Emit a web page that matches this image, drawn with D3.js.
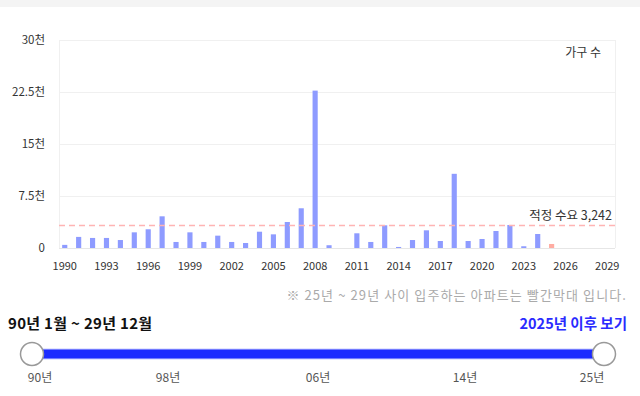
<!DOCTYPE html>
<html>
<head>
<meta charset="utf-8">
<script src="https://cdn.jsdelivr.net/npm/d3@7"></script>
<style>
  body { margin: 0; background: #fff; font-family: "Noto Sans CJK KR", "Noto Sans", sans-serif; }
  svg { display: block; }
</style>
</head>
<body>
<svg id="chart" width="640" height="396"></svg>
<script>
// data
var years = d3.range( 1990, 2030 );
var households = [
	450, 1600, 1450, 1450, 1150, 2260, 2700, 4570, 870, 2260,
	870, 1780, 870, 720, 2350, 1970, 3750, 5730, 22700, 400,
	0, 2120, 870, 3270, 150, 1150, 2550, 1010, 10700, 1010,
	1300, 2450, 3320, 250, 2020, 580, 0, 0, 0, 0
];
var futureFrom = 2025;
var demand = 3242;
var yTicks = [ 0, 7500, 15000, 22500, 30000 ];
var yTickLabels = [ '0', '7.5천', '15천', '22.5천', '30천' ];
var sliderLabels = [ '90년', '98년', '06년', '14년', '25년' ];
var sliderYears = [ 1990, 1998, 2006, 2014, 2025 ];

var svg = d3.select( '#chart' );

// top grey strip
svg.append( 'rect' ).attr( 'x', 0 ).attr( 'y', 0 ).attr( 'width', 640 ).attr( 'height', 7 ).attr( 'fill', '#f4f4f4' );

var plot = { left: 59, right: 615, top: 40, bottom: 248 };

var x = d3.scaleBand()
	.domain( years )
	.range( [ plot.left - 1, plot.right - 1 ] )
	.paddingInner( 0.63 )
	.paddingOuter( 0.3 );

var y = d3.scaleLinear()
	.domain( [ 0, 30000 ] )
	.range( [ plot.bottom, plot.top ] );

// grid
svg.append( 'g' ).selectAll( 'line' )
	.data( yTicks )
	.enter().append( 'line' )
	.attr( 'x1', plot.left ).attr( 'x2', plot.right )
	.attr( 'y1', function( _d ) { return y( _d ) + 0.5; } )
	.attr( 'y2', function( _d ) { return y( _d ) + 0.5; } )
	.attr( 'stroke', function( _d ) { return _d === 0 ? '#e6e6e6' : '#f0f0f0'; } );

svg.append( 'line' ).attr( 'x1', plot.left + 0.5 ).attr( 'x2', plot.left + 0.5 )
	.attr( 'y1', plot.top ).attr( 'y2', plot.bottom ).attr( 'stroke', '#f0f0f0' );
svg.append( 'line' ).attr( 'x1', plot.right + 0.5 ).attr( 'x2', plot.right + 0.5 )
	.attr( 'y1', plot.top ).attr( 'y2', plot.bottom ).attr( 'stroke', '#f0f0f0' );

// y axis labels
var yAxis = d3.axisLeft( y ).tickValues( yTicks ).tickSize( 0 ).tickPadding( 0 )
	.tickFormat( function( _d, i ) { return yTickLabels[ i ]; } );
svg.append( 'g' ).attr( 'transform', 'translate(45,0)' ).call( yAxis )
	.call( function( g ) { g.select( '.domain' ).remove(); } )
	.selectAll( 'text' ).attr( 'fill', '#333' ).style( 'font-size', '11.5px' )
	.style( 'font-family', '"Noto Sans CJK KR", sans-serif' ).attr( 'dy', '0.3em' );

// x axis labels
var xAxis = d3.axisBottom( x )
	.tickValues( years.filter( function( _d ) { return ( _d - 1990 ) % 3 === 0; } ) )
	.tickSize( 0 ).tickPadding( 0 );
svg.append( 'g' ).attr( 'transform', 'translate(0,262)' ).call( xAxis )
	.call( function( g ) { g.select( '.domain' ).remove(); } )
	.selectAll( 'text' ).attr( 'fill', '#333' ).style( 'font-size', '11px' )
	.style( 'font-family', '"Noto Sans CJK KR", sans-serif' );

// bars
svg.append( 'g' ).selectAll( 'rect' )
	.data( years.map( function( _yr, i ) { return { year: _yr, value: households[ i ] }; } ) )
	.enter().append( 'rect' )
	.attr( 'x', function( _d ) { return x( _d.year ); } )
	.attr( 'width', x.bandwidth() )
	.attr( 'y', function( _d ) { return y( _d.value ); } )
	.attr( 'height', function( _d ) { return plot.bottom - y( _d.value ); } )
	.attr( 'fill', function( _d ) { return _d.year >= futureFrom ? '#ffaca2' : '#8e9bff'; } );

// demand line
svg.append( 'line' )
	.attr( 'x1', plot.left ).attr( 'x2', plot.right )
	.attr( 'y1', y( demand ) ).attr( 'y2', y( demand ) )
	.attr( 'stroke', '#ffb4b4' ).attr( 'stroke-width', 1.5 ).attr( 'stroke-dasharray', '6,4' );

svg.append( 'text' ).attr( 'x', 612 ).attr( 'y', y( demand ) - 6 )
	.attr( 'text-anchor', 'end' ).attr( 'fill', '#333' ).style( 'font-size', '12.5px' )
	.text( '적정 수요 ' + d3.format( ',' )( demand ) );

svg.append( 'text' ).attr( 'x', 601 ).attr( 'y', 57 )
	.attr( 'text-anchor', 'end' ).attr( 'fill', '#333' ).style( 'font-size', '12px' )
	.text( '가구 수' );

// note
svg.append( 'text' ).attr( 'x', 627 ).attr( 'y', 300 )
	.attr( 'text-anchor', 'end' ).attr( 'fill', '#aaa' ).style( 'font-size', '13px' )
	.style( 'letter-spacing', '1.1px' )
	.text( '※ 25년 ~ 29년 사이 입주하는 아파트는 빨간막대 입니다.' );

svg.append( 'text' ).attr( 'x', 8 ).attr( 'y', 329 )
	.attr( 'fill', '#111' ).style( 'font-size', '15px' ).style( 'font-weight', 'bold' )
	.style( 'letter-spacing', '0.3px' )
	.text( '90년 1월 ~ 29년 12월' );

svg.append( 'text' ).attr( 'x', 627 ).attr( 'y', 329 )
	.attr( 'text-anchor', 'end' ).attr( 'fill', '#2b2bff' ).style( 'font-size', '14.5px' ).style( 'font-weight', 'bold' )
	.text( '2025년 이후 보기' );

// slider
var sx = d3.scaleLinear().domain( sliderYears ).range( [ 40, 168, 318, 465, 592 ] );
var trackY = 354;
svg.append( 'rect' ).attr( 'x', 32 ).attr( 'y', trackY - 5 ).attr( 'width', 604 - 32 ).attr( 'height', 10 )
	.attr( 'fill', '#1c2bff' ).attr( 'stroke', '#c8ccff' ).attr( 'stroke-width', 1 );

svg.append( 'g' ).selectAll( 'circle' )
	.data( [ 32, 604 ] )
	.enter().append( 'circle' )
	.attr( 'cx', function( _d ) { return _d; } ).attr( 'cy', trackY ).attr( 'r', 11.5 )
	.attr( 'fill', '#fff' ).attr( 'stroke', '#999' ).attr( 'stroke-width', 1.5 );

svg.append( 'g' ).selectAll( 'text' )
	.data( sliderYears )
	.enter().append( 'text' )
	.attr( 'x', function( _d ) { return sx( _d ); } ).attr( 'y', 382 )
	.attr( 'text-anchor', 'middle' ).attr( 'fill', '#555' ).style( 'font-size', '12px' )
	.text( function( _d, i ) { return sliderLabels[ i ]; } );
</script>
</body>
</html>
